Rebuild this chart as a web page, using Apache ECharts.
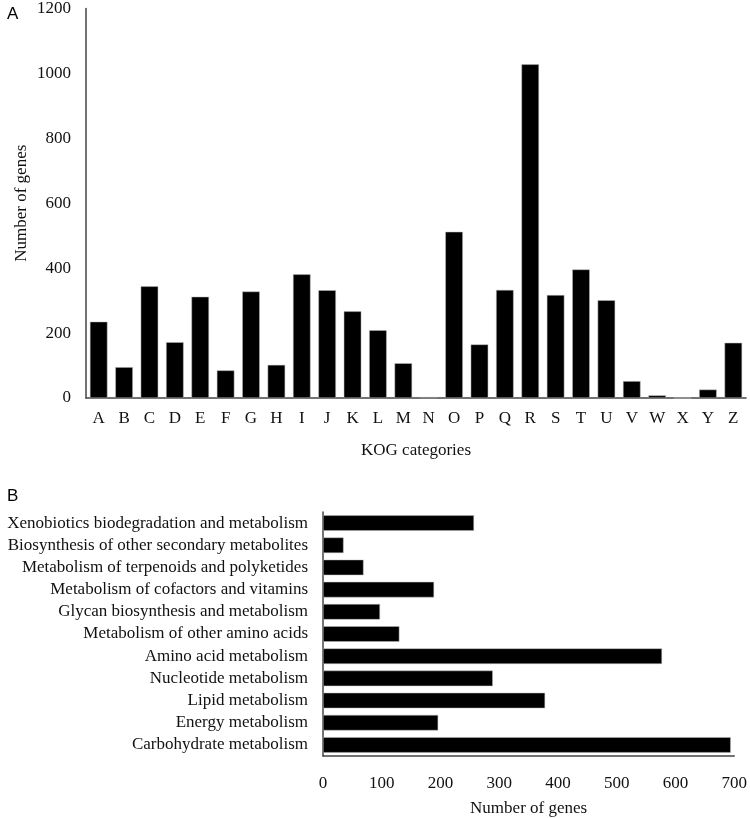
<!DOCTYPE html>
<html><head><meta charset="utf-8">
<script src="https://cdn.jsdelivr.net/npm/echarts@6/dist/echarts.min.js"></script>
<style>html,body{margin:0;padding:0;background:#fff}#c{width:750px;height:818px}</style>
</head><body><div id="c"></div>
<script>
const kogCategories = ['A','B','C','D','E','F','G','H','I','J','K','L','M','N','O','P','Q','R','S','T','U','V','W','X','Y','Z'];
const kogValues = [235,95,344,172,312,85,328,102,381,332,267,209,107,3,512,165,333,1028,317,396,301,52,8,0,26,170];
const kogTicks = [0,200,400,600,800,1000,1200];

const keggCategories = ['Carbohydrate metabolism','Energy metabolism','Lipid metabolism','Nucleotide metabolism','Amino acid metabolism','Metabolism of other amino acids','Glycan biosynthesis and metabolism','Metabolism of cofactors and vitamins','Metabolism of terpenoids and polyketides','Biosynthesis of other secondary metabolites','Xenobiotics biodegradation and metabolism'];
const keggValues = [694,196,378,289,577,130,97,189,69,35,257];
const keggTicks = [0,100,200,300,400,500,600,700];

const serif = '"Liberation Serif", "DejaVu Serif", serif';
const axisLine = {show:true, lineStyle:{color:'#444', width:1.5}};
const plain = v => String(v);
const chart = echarts.init(document.getElementById('c'), null, {renderer:'canvas'});
chart.setOption({
  animation:false,
  backgroundColor:'#fff',
  title:[
    {text:'A', left:2, top:1, textStyle:{fontFamily:'"Liberation Sans", Arial, sans-serif', fontSize:17, fontWeight:'normal', color:'#000'}},
    {text:'B', left:2, top:483, textStyle:{fontFamily:'"Liberation Sans", Arial, sans-serif', fontSize:17, fontWeight:'normal', color:'#000'}}
  ],
  grid:[
    {left:86, top:8, width:660, height:390, containLabel:false},
    {left:323, top:512, width:414, height:251, containLabel:false}
  ],
  xAxis:[
    {gridIndex:0, type:'category', data:kogCategories, axisLine:axisLine, axisTick:{show:false},
     axisLabel:{fontFamily:serif, fontSize:17, color:'#111', margin:12, interval:0},
     name:'KOG categories', nameLocation:'middle', nameGap:44, nameTextStyle:{fontFamily:serif, fontSize:17, color:'#111'}},
    {gridIndex:1, type:'value', min:keggTicks[0], max:keggTicks[keggTicks.length-1], interval:100,
     axisLine:axisLine, axisTick:{show:false}, splitLine:{show:false},
     axisLabel:{fontFamily:serif, fontSize:17, color:'#111', margin:19, formatter:plain},
     name:'Number of genes', nameLocation:'middle', nameGap:44, nameTextStyle:{fontFamily:serif, fontSize:17, color:'#111'}}
  ],
  yAxis:[
    {gridIndex:0, type:'value', min:kogTicks[0], max:kogTicks[kogTicks.length-1], interval:200,
     axisLine:axisLine, axisTick:{show:false}, splitLine:{show:false},
     axisLabel:{fontFamily:serif, fontSize:17, color:'#111', margin:15, formatter:plain},
     name:'Number of genes', nameLocation:'middle', nameGap:56, nameMoveOverlap:false, nameRotate:90, nameTextStyle:{fontFamily:serif, fontSize:17, color:'#111'}},
    {gridIndex:1, type:'category', data:keggCategories, axisLine:axisLine, axisTick:{show:false},
     axisLabel:{fontFamily:serif, fontSize:17, color:'#111', margin:15, interval:0}}
  ],
  series:[
    {type:'bar', xAxisIndex:0, yAxisIndex:0, data:kogValues, barCategoryGap:'31%',
     itemStyle:{color:'#000', borderColor:'#bbb', borderWidth:0.5}},
    {type:'bar', xAxisIndex:1, yAxisIndex:1, data:keggValues, barCategoryGap:'30%',
     itemStyle:{color:'#000', borderColor:'#bbb', borderWidth:0.5}}
  ]
});
</script></body></html>
